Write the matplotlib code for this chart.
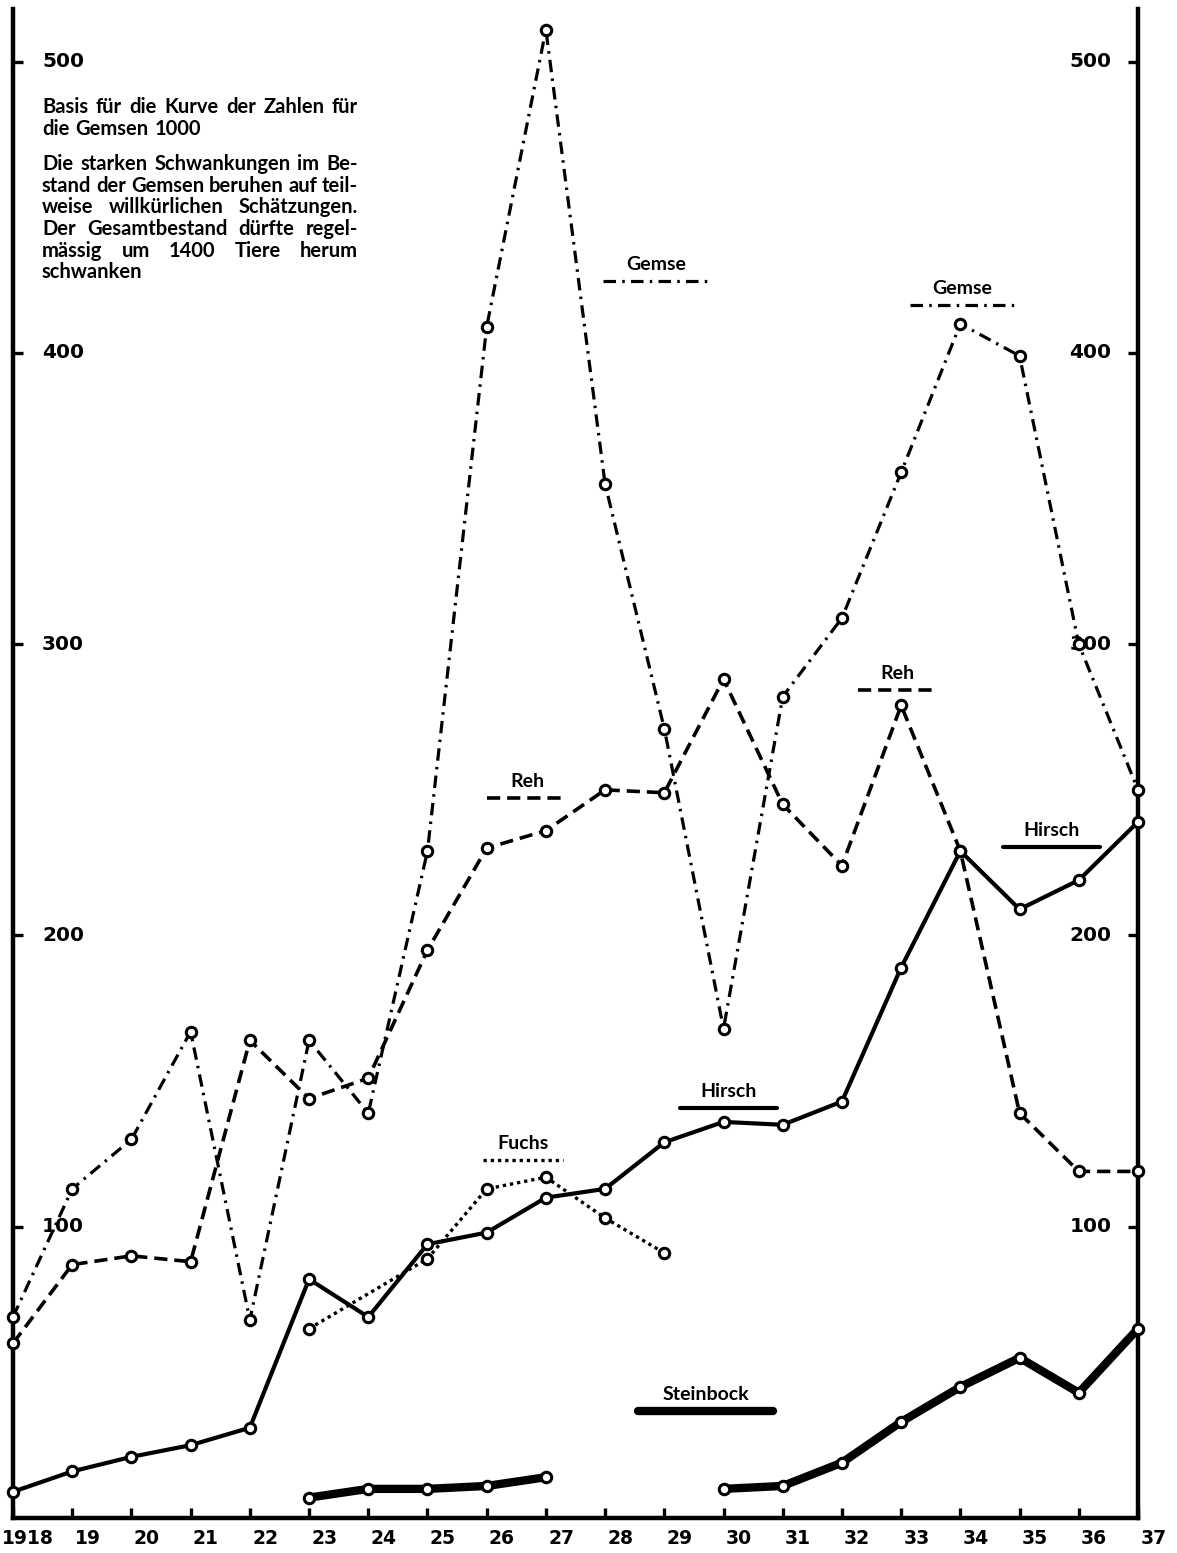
import matplotlib
matplotlib.use("Agg")
import matplotlib.pyplot as plt
import numpy as np

plt.rcParams['font.family'] = ['Lato', 'DejaVu Sans']
plt.rcParams['font.weight'] = 'bold'
plt.rcParams['lines.scale_dashes'] = False

nan = np.nan

# --- data ---
years = list(range(1918, 1938))
year_labels = ['1918'] + [str(y)[2:] for y in years[1:]]

gemse = [69, 113, 130, 167, 68, 164, 139, 229, 409, 511,
         355, 271, 168, 282, 309, 359, 410, 399, 300, 250]
reh = [60, 87, 90, 88, 164, 144, 151, 195, 230, 236,
       250, 249, 288, 245, 224, 279, 229, 139, 119, 119]
hirsch = [9, 16, 21, 25, 31, 82, 69, 94, 98, 110,
          113, 129, 136, 135, 143, 189, 229, 209, 219, 239]
steinbock = [nan, nan, nan, nan, nan, 7, 10, 10, 11, 14,
             nan, nan, 10, 11, 19, 33, 45, 55, 43, 65]
fuchs_years = [1923, 1925, 1926, 1927, 1928, 1929]
fuchs = [65, 89, 113, 117, 103, 91]

y_ticks = [100, 200, 300, 400, 500]

note_par1 = ["Basis für die Kurve der Zahlen für",
             "die Gemsen 1000"]
note_par2 = ["Die starken Schwankungen im Be-",
             "stand der Gemsen beruhen auf teil-",
             "weise willkürlichen Schätzungen.",
             "Der Gesamtbestand dürfte regel-",
             "mässig um 1400 Tiere herum",
             "schwanken"]

# --- line styles ---
mk = dict(marker='o', ms=7.5, mfc='white', mec='black', mew=2.2)
st_gemse = dict(color='black', lw=2.3, dashes=(9, 4.5, 1.8, 4.5))
st_reh = dict(color='black', lw=2.6, dashes=(9.5, 5))
st_hirsch = dict(color='black', lw=3.0, solid_capstyle='round', solid_joinstyle='round')
st_stein = dict(color='black', lw=6.0, solid_capstyle='round', solid_joinstyle='round')
st_fuchs = dict(color='black', lw=2.4, dashes=(2.4, 2.8))

# key labels: (text, style, x0, x1, y)
keys = [("Gemse", st_gemse, 1927.96, 1929.77, 424.7),
        ("Gemse", st_gemse, 1933.15, 1934.92, 416.5),
        ("Reh", st_reh, 1926.0, 1927.36, 247.2),
        ("Reh", st_reh, 1932.27, 1933.6, 284.3),
        ("Hirsch", st_hirsch, 1934.72, 1936.36, 230.4),
        ("Hirsch", st_hirsch, 1929.27, 1930.9, 140.8),
        ("Fuchs", st_fuchs, 1925.94, 1927.29, 122.9),
        ("Steinbock", st_stein, 1928.56, 1930.84, 36.7)]

W, H = 1177, 1553
fig = plt.figure(figsize=(W / 100, H / 100), dpi=100)
ax = fig.add_axes([13 / W, 35 / H, 1125 / W, 1509 / H])
ax.set_xlim(1918, 1937)
ax.set_ylim(0, 518.1)

ax.plot(years, steinbock, clip_on=False, zorder=3, **st_stein, **mk)
ax.plot(years, hirsch, clip_on=False, zorder=4, **st_hirsch, **mk)
ax.plot(fuchs_years, fuchs, clip_on=False, zorder=4, **st_fuchs, **mk)
ax.plot(years, reh, clip_on=False, zorder=5, **st_reh, **mk)
ax.plot(years, gemse, clip_on=False, zorder=6, **st_gemse, **mk)

# little keys next to the curves
for name, st, x0, x1, y in keys:
    ax.plot([x0, x1], [y, y], **st)
    ax.text((x0 + x1) / 2, y + 5.6, name, ha='center', va='center', fontsize=14)

# axes frame
for side in ['left', 'right', 'bottom']:
    ax.spines[side].set_linewidth(3.2)
ax.spines['top'].set_visible(False)

# tick marks point inward, labels sit inside the frame
ax.set_yticks(y_ticks)
ax.tick_params(axis='y', direction='in', length=7, width=2.4, left=True, right=True,
               labelleft=False, labelright=False)
ax.set_xticks(years)
ax.tick_params(axis='x', direction='in', length=7, width=2.4, labelbottom=False)

num_font = dict(family='DejaVu Sans', fontweight='bold')
ytr = ax.get_yaxis_transform()
for v in y_ticks:
    ax.annotate(str(v), (0, v), xycoords=ytr, xytext=(21, 0), textcoords='offset points',
                ha='left', va='center', fontsize=14.5, **num_font)
    ax.annotate(str(v), (1, v), xycoords=ytr, xytext=(-19, 0), textcoords='offset points',
                ha='right', va='center', fontsize=14.5, **num_font)
xtr = ax.get_xaxis_transform()
for yr, lab in zip(years, year_labels):
    ax.annotate(lab, (yr, 0), xycoords=xtr, xytext=(11, -8), textcoords='offset points',
                ha='center', va='top', fontsize=13.5, annotation_clip=False, **num_font)

# justified note text in the upper left
renderer = fig.canvas.get_renderer()
def put_line(line, y, justify):
    words = line.split()
    x_left, x_right = 42, 358
    txts = [fig.text(0, 0, w, fontsize=14.5, va='baseline') for w in words]
    widths = [t.get_window_extent(renderer).width for t in txts]
    if justify and len(words) > 1:
        gap = (x_right - x_left - sum(widths)) / (len(words) - 1)
    else:
        gap = 6
    x = x_left
    for t, w in zip(txts, widths):
        t.set_position((x / W, 1 - y / H))
        x += w + gap

y = 113
for i, line in enumerate(note_par1):
    put_line(line, y, i < len(note_par1) - 1)
    y += 21.7
y = 170
for i, line in enumerate(note_par2):
    put_line(line, y, i < len(note_par2) - 1)
    y += 21.7

fig.savefig("out.png", dpi=100)
